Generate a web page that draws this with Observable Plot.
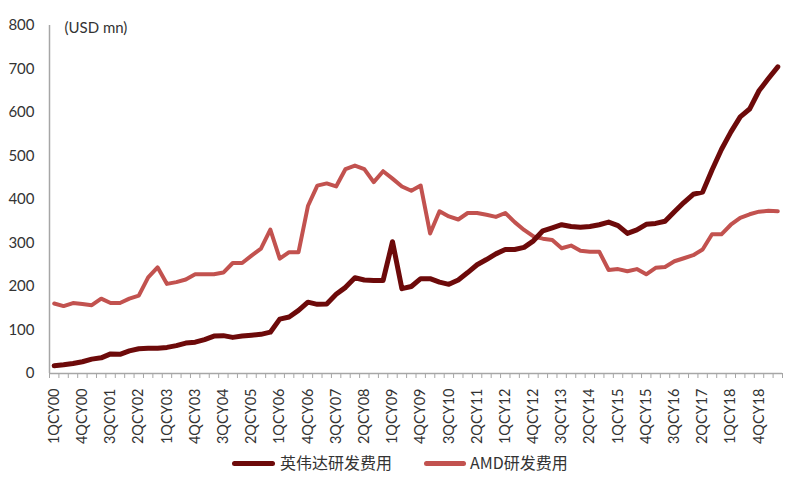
<!DOCTYPE html>
<html><head><meta charset="utf-8">
<script src="https://cdn.jsdelivr.net/npm/d3@7"></script>
<script src="https://cdn.jsdelivr.net/npm/@observablehq/plot@0.6"></script>
<style>
body{margin:0;background:#fff;font-family:Lato,"Open Sans",sans-serif;}
#wrap{width:800px;position:relative;}
#wrap svg{overflow:visible;}
.legend{position:relative;height:51px;width:800px;font-family:"Noto Sans CJK SC",sans-serif;font-size:16px;color:#333;}
.legend .sw{position:absolute;top:21px;height:5px;border-radius:3px;}
.legend .lb{position:absolute;top:11px;line-height:22px;}
</style>
</head><body><div id="wrap"></div>
<script>
const quarters = [
 "1QCY00","2QCY00","3QCY00","4QCY00","1QCY01","2QCY01","3QCY01","4QCY01","1QCY02","2QCY02",
 "3QCY02","4QCY02","1QCY03","2QCY03","3QCY03","4QCY03","1QCY04","2QCY04","3QCY04","4QCY04",
 "1QCY05","2QCY05","3QCY05","4QCY05","1QCY06","2QCY06","3QCY06","4QCY06","1QCY07","2QCY07",
 "3QCY07","4QCY07","1QCY08","2QCY08","3QCY08","4QCY08","1QCY09","2QCY09","3QCY09","4QCY09",
 "1QCY10","2QCY10","3QCY10","4QCY10","1QCY11","2QCY11","3QCY11","4QCY11","1QCY12","2QCY12",
 "3QCY12","4QCY12","1QCY13","2QCY13","3QCY13","4QCY13","1QCY14","2QCY14","3QCY14","4QCY14",
 "1QCY15","2QCY15","3QCY15","4QCY15","1QCY16","2QCY16","3QCY16","4QCY16","1QCY17","2QCY17",
 "3QCY17","4QCY17","1QCY18","2QCY18","3QCY18","4QCY18","1QCY19","2QCY19"
];
const tickLabels = ["1QCY00","4QCY00","3QCY01","2QCY02","1QCY03","4QCY03","3QCY04","2QCY05","1QCY06","4QCY06","3QCY07","2QCY08","1QCY09","4QCY09","3QCY10","2QCY11","1QCY12","4QCY12","3QCY13","2QCY14","1QCY15","4QCY15","3QCY16","2QCY17","1QCY18","4QCY18"];
const yTicks = [0,100,200,300,400,500,600,700,800];
const nvidia = [
 18,20,23,27,33,36,45,44,52,57,
 58,58,60,64,70,72,78,86,87,83,
 86,88,90,95,125,130,145,164,159,160,
 182,198,220,215,214,214,303,195,200,218,
 218,210,205,215,232,250,262,275,285,285,
 290,305,328,335,342,338,336,338,342,348,
 340,322,330,343,345,350,372,393,412,417,
 468,515,555,590,608,650,678,705
];
const amd = [
 161,155,162,160,157,172,162,162,172,179,
 221,244,206,210,216,228,228,228,232,254,
 254,271,287,331,264,279,279,385,432,437,
 430,470,478,470,440,465,448,430,420,432,
 322,373,361,354,369,369,365,360,369,348,
 330,315,310,307,288,294,282,280,280,238,
 240,235,240,228,243,245,258,265,272,285,
 320,320,342,358,366,372,374,373
];
const seriesNames = ["英伟达研发费用","AMD研发费用"];
const colors = ["#6d0a0a","#c2524f"];

const data = quarters.map((q,i)=>({i, q, nvidia:nvidia[i], amd:amd[i]}));
const n = quarters.length;
const xDomain = [-0.5, n-0.5];
const boundaries = d3.range(-0.5, n, 1);
const labels = tickLabels.map(t => ({i: quarters.indexOf(t), t}));

const chart = Plot.plot({
  width:800, height:440,
  marginLeft:49, marginRight:18, marginTop:25, marginBottom:67,
  style:{fontFamily:"Lato, 'Open Sans', sans-serif", fontSize:"15px", color:"#333", background:"#fff", overflow:"visible"},
  x:{domain:xDomain},
  y:{domain:[0,800]},
  marks:[
    Plot.axisY({ticks:yTicks, tickSize:0, tickPadding:15, label:null, fontSize:15}),
    Plot.axisX({ticks:boundaries, tickSize:5, tickFormat:()=>"", stroke:"#a6a6a6", label:null}),
    Plot.text(labels, {x:"i", text:"t", frameAnchor:"bottom", rotate:-90, textAnchor:"end", lineAnchor:"middle", dy:15, fontSize:14.5, fill:"#333"}),
    Plot.ruleX([xDomain[0]], {stroke:"#a6a6a6", strokeWidth:1.5}),
    Plot.ruleY([0], {stroke:"#a6a6a6", strokeWidth:1.5}),
    Plot.line(data, {x:"i", y:"amd", stroke:colors[1], strokeWidth:4, strokeLinejoin:"round", strokeLinecap:"round"}),
    Plot.line(data, {x:"i", y:"nvidia", stroke:colors[0], strokeWidth:5, strokeLinejoin:"round", strokeLinecap:"round"}),
    Plot.text(["(USD mn)"], {frameAnchor:"top-left", dx:15, dy:-3, textAnchor:"start", fontSize:15, fill:"#333"})
  ]
});
const wrap = document.getElementById("wrap");
wrap.appendChild(chart);
const legend = document.createElement("div");
legend.className = "legend";
legend.innerHTML =
  `<div class="sw" style="left:232px;width:43px;background:${colors[0]}"></div><div class="lb" style="left:280px">${seriesNames[0]}</div>` +
  `<div class="sw" style="left:424px;width:42px;background:${colors[1]}"></div><div class="lb" style="left:470px">${seriesNames[1]}</div>`;
wrap.appendChild(legend);
</script>
</body></html>
